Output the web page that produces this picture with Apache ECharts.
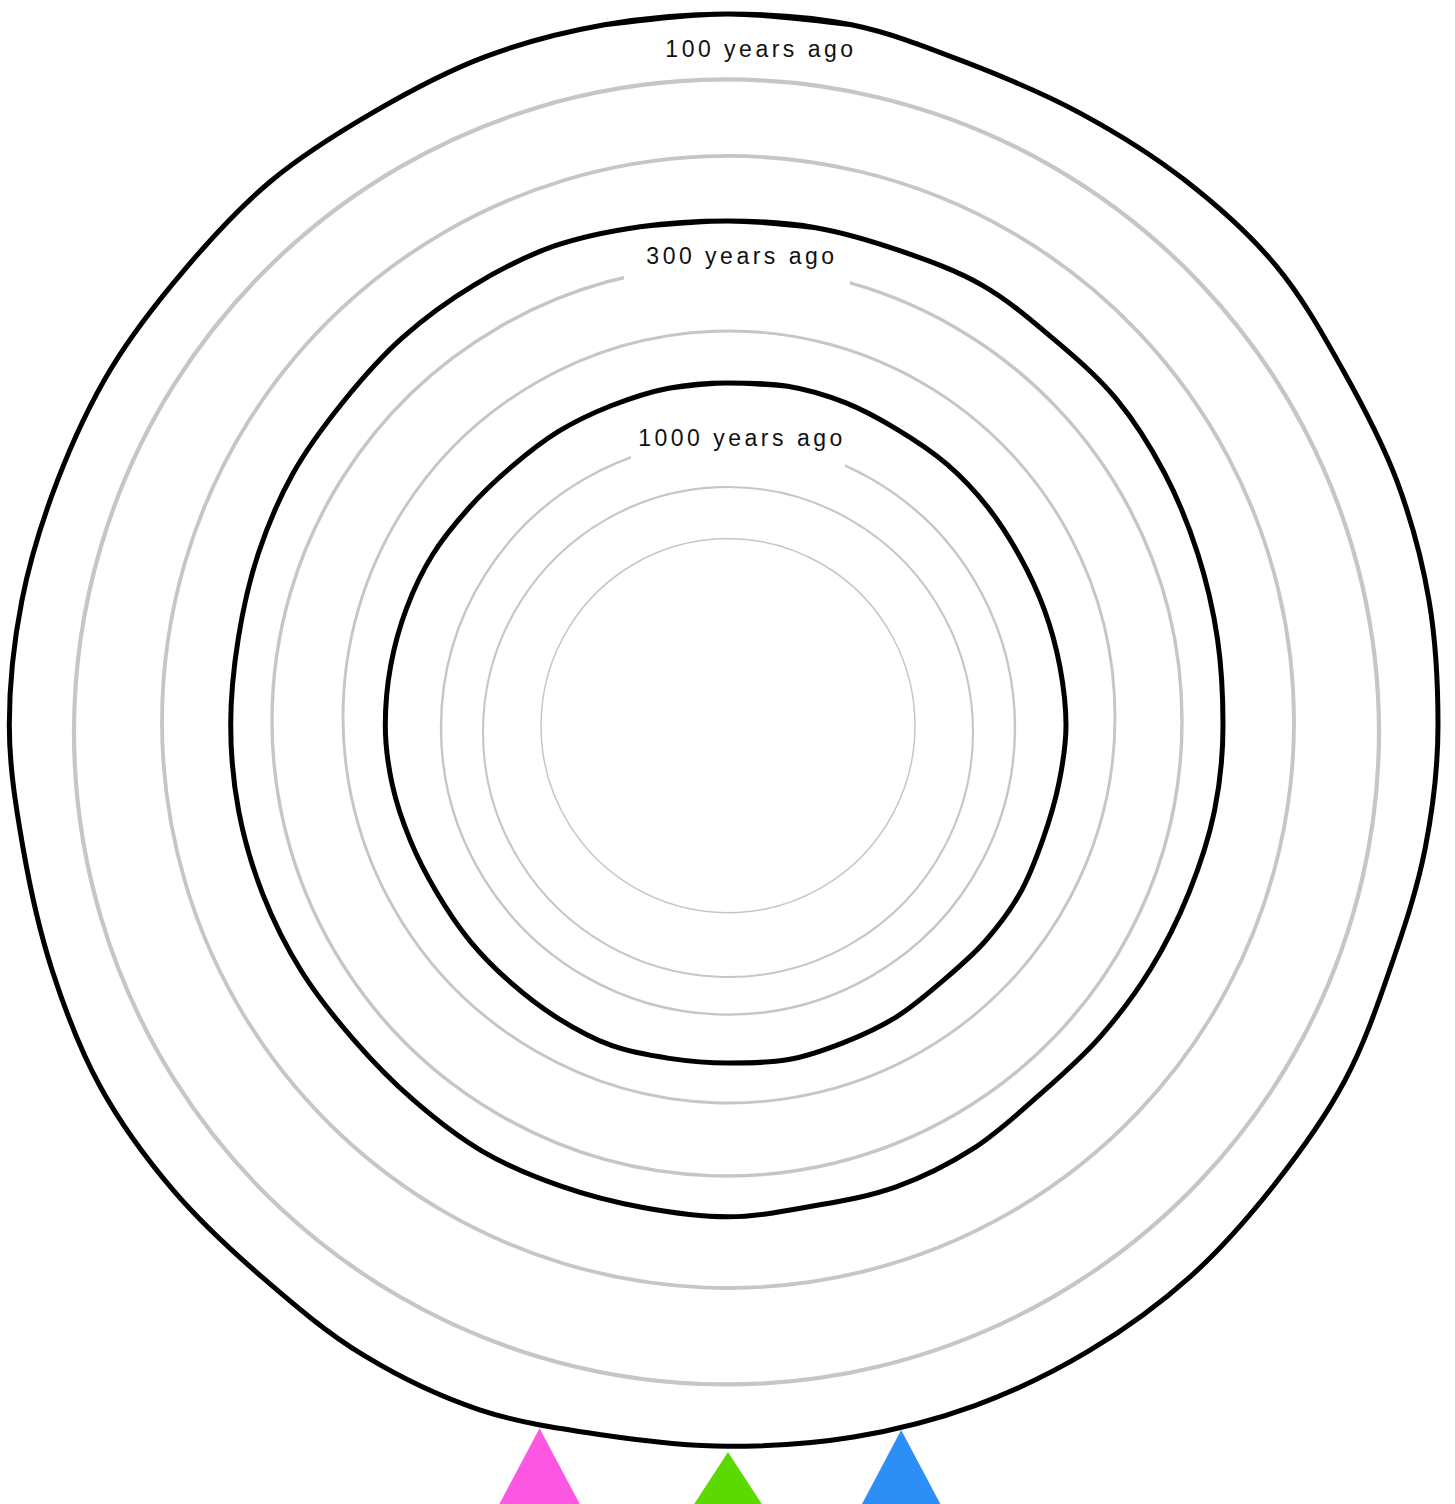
<!DOCTYPE html>
<html>
<head>
<meta charset="utf-8">
<script src="https://cdn.jsdelivr.net/npm/echarts@6/dist/echarts.min.js"></script>
<style>
  html, body { margin: 0; padding: 0; background: #fff; }
  #chart { width: 1455px; height: 1504px; }
  #chart text { letter-spacing: 3.5px; }
</style>
</head>
<body>
<div id="chart"></div>
<script>
// ---- data ----
const angles = [0,10,20,30,40,50,60,70,80,90,100,110,120,130,140,150,160,170,180,190,200,210,220,230,240,250,260,270,280,290,300,310,320,330,340,350];
const r100  = [711,711,704,706,711,715,710,712,712,710,708,705.5,712,714,719.7,722.5,724,723,721.3,721,728.5,728,722.5,724,724.5,719,715.6,718.7,717,713.7,712.5,709,710.5,708,711,711];
const r300  = [504,505,504.5,508,505,507,504,500,497,495,494,490.5,488,485.5,483.5,489.5,491.5,488.5,491.8,490,490.5,492,489.5,489,492.5,495,496.8,497.3,497.3,500,502.5,502.5,506,508,509.5,506];
const r1000 = [342,344,343,340.5,340.5,339,337,336.7,337,338,336,335,337,336,334,337,338,340,338,338.5,341,339,337,336.5,336,338,341,342.7,342.5,342,341,338,337,339,340,342];
const curveLabels = ['100 years ago', '300 years ago', '1000 years ago'];
const markerNames = ['pink', 'green', 'blue'];
const markerRadii = [728, 727, 726];
const markerAngles = [195, 180, 166.2];

// ---- layout / style (not data) ----
const CENTER = [728, 725];
const rings = [
  { c: [726.5, 732], r: 652.5, w: 4.2 },
  { c: [728, 722],   r: 566,   w: 3.8 },
  { c: [727, 721],   r: 455,   w: 3.4 },
  { c: [729, 717],   r: 386,   w: 2.9 },
  { c: [728, 727.6], r: 287,   w: 2.4 },
  { c: [728, 732],   r: 245,   w: 2.1 },
  { c: [728, 725.7], r: 187,   w: 1.5 }
];
const markerStyle = [
  { color: '#fc56e2', size: [106, 100] },
  { color: '#5bd900', size: [104, 80] },
  { color: '#2d8ff5', size: [106, 100] }
];
const labelPos = [[761, 49], [742, 256], [742, 438]];

const chart = echarts.init(document.getElementById('chart'), null, { renderer: 'svg' });

const polar = [{ center: CENTER, radius: 800 }];
const angleAxis = [{ polarIndex: 0, type: 'value', min: 0, max: 360, startAngle: 90, clockwise: true, show: false }];
const radiusAxis = [{ polarIndex: 0, type: 'value', min: 0, max: 800, show: false }];
rings.forEach((g, i) => {
  polar.push({ center: g.c, radius: g.r });
  angleAxis.push({
    polarIndex: i + 1, type: 'value', min: 0, max: 360, startAngle: 90, z: 0,
    axisLine: { show: true, lineStyle: { color: '#c6c6c6', width: g.w } },
    axisTick: { show: false }, axisLabel: { show: false }, splitLine: { show: false }
  });
  radiusAxis.push({ polarIndex: i + 1, type: 'value', min: 0, max: 1, show: false });
});

// closed curve: wrap one step on each side so the smoothing has tangents at the seam
function curve(radii) {
  const n = angles.length;
  const d = [[radii[n - 1], angles[n - 1] - 360]];
  angles.forEach((a, i) => d.push([radii[i], a]));
  d.push([radii[0], 360]);
  d.push([radii[1], angles[1] + 360]);
  return d;
}

const series = [r100, r300, r1000].map((rs, i) => ({
  name: curveLabels[i],
  type: 'line',
  coordinateSystem: 'polar',
  polarIndex: 0,
  data: curve(rs),
  smooth: 0.34,
  symbol: 'none',
  silent: true,
  clip: false,
  z: 5,
  lineStyle: { color: '#000', width: 5, join: 'round', cap: 'round' }
}));

markerNames.forEach((n, i) => {
  series.push({
    name: n,
    type: 'scatter',
    coordinateSystem: 'polar',
    polarIndex: 0,
    data: [[markerRadii[i], markerAngles[i]]],
    symbol: 'triangle',
    symbolSize: markerStyle[i].size,
    symbolOffset: [0, '50%'],
    itemStyle: { color: markerStyle[i].color, opacity: 1 },
    z: 6,
    silent: true
  });
});

const graphic = [
  { type: 'rect', z: 1, shape: { x: 624, y: 254, width: 226, height: 37 }, style: { fill: '#fff' } },
  { type: 'rect', z: 1, shape: { x: 631, y: 425, width: 214, height: 47 }, style: { fill: '#fff' } }
];
curveLabels.forEach((t, i) => {
  graphic.push({
    type: 'text', z: 10, x: labelPos[i][0], y: labelPos[i][1],
    style: {
      text: t, fill: '#111',
      font: '23px "Liberation Sans", Arial, sans-serif',
      align: 'center', verticalAlign: 'middle',
      textAlign: 'center', textVerticalAlign: 'middle'
    }
  });
});

chart.setOption({
  animation: false,
  backgroundColor: '#fff',
  polar, angleAxis, radiusAxis,
  graphic,
  series
});
</script>
</body>
</html>
